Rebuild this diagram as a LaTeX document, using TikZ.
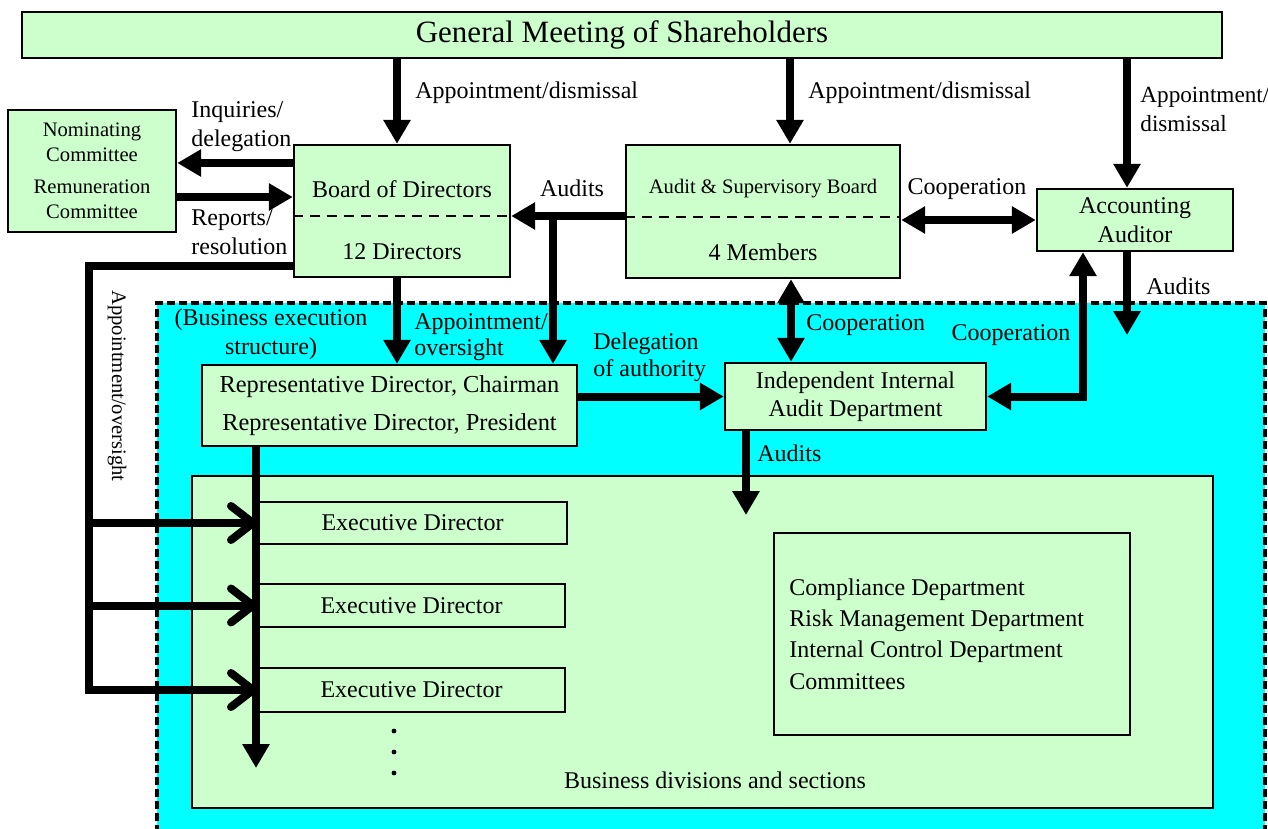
\documentclass[tikz,border=0pt]{standalone}
\usepackage{fontspec}
\setmainfont{Liberation Serif}
\usetikzlibrary{positioning,arrows.meta}

\definecolor{boxgreen}{HTML}{CCFFCC}
\definecolor{execcyan}{HTML}{00FFFF}

\begin{document}
\begin{tikzpicture}[x=0.5pt, y=-0.5pt, font=\fontsize{12}{14.5}\selectfont]
    \tikzset{
        mynode/.style = {rectangle, line width=1.2pt, draw=black, fill=boxgreen, inner sep=0pt, text centered},
        lbl/.style = {inner sep=0pt, align=left},
        small/.style = {font=\fontsize{10.3}{12.5}\selectfont},
        arrow/.style = {line width=4pt, -{Triangle[length=12pt,width=13pt]}},
        twoway/.style = {line width=4pt, {Triangle[length=12pt,width=13pt]}-{Triangle[length=12pt,width=13pt]}},
        openarrow/.style = {line width=4pt, line join=miter, -{Straight Barb[length=11pt,width=17pt,round]}},
        divider/.style = {line width=1.4pt, dash pattern=on 5pt off 3.5pt}
    }
    \useasboundingbox (0,0) rectangle (1268,829);

    % business execution area
    \fill[execcyan] (157,303) rectangle (1265,845);
    \draw[line width=1.8pt, dash pattern=on 4pt off 2pt] (157,845) -- (157,303) -- (1265,303) -- (1265,845);

    \node (gms) [mynode, minimum width=600pt, minimum height=23pt, font=\fontsize{15.5}{18}\selectfont] at (622,35) {General Meeting of Shareholders};
    \node (nomc) [mynode, small, minimum width=84pt, minimum height=61pt, align=center] at (92,171) {Nominating\\Committee\\[3.5pt]Remuneration\\Committee};

    \node (bod) [mynode, minimum width=108pt, minimum height=66pt] at (402,211) {};
    \node (bodName) [lbl] at (402,189) {Board of Directors};
    \node (bodSize) [lbl] at (402,252) {12 Directors};
    \draw[divider] (bod.west |- 0,216) -- (bod.east |- 0,216);

    \node (asb) [mynode, minimum width=137pt, minimum height=66.5pt] at (763,211.5) {};
    \node (asbName) [lbl, small] at (763,189) {Audit \& Supervisory Board};
    \node (asbSize) [lbl] at (763,252) {4 Members};
    \draw[divider] (asb.west |- 0,217) -- (asb.east |- 0,217);

    \node (aud) [mynode, minimum width=98pt, minimum height=31pt, align=center] at (1135,220) {Accounting\\Auditor};

    \node (rep) [mynode, minimum width=187.5pt, minimum height=40.5pt, align=center, font=\fontsize{12.2}{14.5}\selectfont] at (389.5,405.5) {Representative Director, Chairman\\[4.5pt]Representative Director, President};
    \node (iia) [mynode, minimum width=130.5pt, minimum height=33.5pt, align=center, font=\fontsize{12}{14}\selectfont] at (855.5,396.5) {Independent Internal\\Audit Department};

    \node (bds) [mynode, minimum width=510.5pt, minimum height=166pt] at (702.5,642) {};
    \node (bdsLabel) [lbl] at (715,780) {Business divisions and sections};
    \node (exd1) [mynode, line width=1pt, minimum width=154.5pt, minimum height=21pt] at (412.5,523) {Executive Director};
    \node (exd2) [mynode, line width=1pt, minimum width=153.5pt, minimum height=21.5pt] at (411.5,605.5) {Executive Director};
    \node (exd3) [mynode, line width=1pt, minimum width=153.5pt, minimum height=22pt] at (411.5,690) {Executive Director};
    \foreach \y in {731,752,773}
        \fill (394,\y) circle (1.2pt);

    \node (cmp) [mynode, line width=1pt, minimum width=178pt, minimum height=101pt] at (952,634) {};
    \node (cmpText) [lbl, anchor=west, font=\fontsize{12}{15.7}\selectfont] at (789,634) {Compliance Department\\Risk Management Department\\Internal Control Department\\Committees};

    % free ends and corners
    \coordinate (fork) at (553,216);
    \coordinate (ovs) at (89,266);
    \coordinate (repEnd) at (256,768);
    \coordinate (audEnd) at (1127,335);
    \coordinate (iiaEnd) at (746,515);

    \draw [arrow] (gms.south -| 397,0) -- (bod.north -| 397,0);
    \draw [arrow] (gms.south -| 790,0) -- (asb.north -| 790,0);
    \draw [arrow] (gms.south -| 1127,0) -- (aud.north -| 1127,0);
    \draw [arrow] (bod.west |- 0,163) -- (nomc.east |- 0,163);
    \draw [arrow] (nomc.east |- 0,197) -- (bod.west |- 0,197);
    \draw [arrow] (asb.west |- fork) -- (bod.east |- fork);
    \draw [arrow] (fork) -- (rep.north -| fork);
    \draw [arrow] (bod.south -| 397,0) -- (rep.north -| 397,0);
    \draw [arrow] (rep.east |- iia.west) -- (iia.west);
    \draw [twoway] (asb.south -| 791,0) -- (iia.north -| 791,0);
    \draw [twoway] (asb.east |- aud.west) -- (aud.west);
    \draw [twoway] (aud.south -| 1083,0) |- (iia.east);
    \draw [arrow] (aud.south -| audEnd) -- (audEnd);
    \draw [arrow] (iia.south -| iiaEnd) -- (iiaEnd);
    \draw [arrow] (rep.south -| repEnd) -- (repEnd);

    \draw [openarrow] (bod.west |- ovs) -- (ovs) |- (exd3.west);
    \draw [openarrow] (exd1.west -| ovs) -- (exd1.west);
    \draw [openarrow] (exd2.west -| ovs) -- (exd2.west);

    \node (apd1) [lbl, anchor=west] at (415,93) {Appointment/dismissal};
    \node (apd2) [lbl, anchor=west] at (808,93) {Appointment/dismissal};
    \node (apd3) [lbl, anchor=west, font=\fontsize{11.6}{14.5}\selectfont] at (1140,109.5) {Appointment/\\dismissal};
    \node (inqLabel) [lbl, anchor=west] at (191,126.5) {Inquiries/\\delegation};
    \node (rptLabel) [lbl, anchor=west] at (191,232.5) {Reports/\\resolution};
    \node (auditsLabel) [lbl] at (572,188) {Audits};
    \node (coopLabel) [lbl] at (967,189) {Cooperation};
    \node (audLabel) [lbl, anchor=west] at (1146,286) {Audits};
    \node (besLabel) [lbl, align=center] at (271,334.5) {(Business execution\\structure)};
    \node (aoLabel) [lbl, anchor=west, font=\fontsize{12}{13}\selectfont] at (414,337) {Appointment/\\oversight};
    \node (dlgLabel) [lbl, anchor=west, font=\fontsize{12}{13.5}\selectfont] at (593,357.5) {Delegation\\of authority};
    \node (coop2Label) [lbl, anchor=west] at (806,325) {Cooperation};
    \node (coop3Label) [lbl] at (1011,335) {Cooperation};
    \node (iiaAudits) [lbl, anchor=west] at (757,453) {Audits};
    \node (ovsLabel) [lbl, small, rotate=-90] at (117,386) {Appointment/oversight};
\end{tikzpicture}
\end{document}
